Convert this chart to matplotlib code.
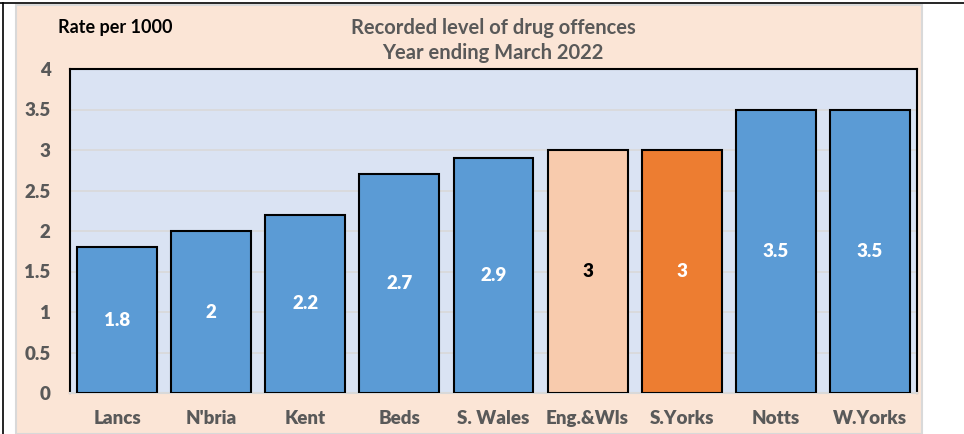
import matplotlib.pyplot as plt
from matplotlib.patches import Rectangle
from matplotlib.lines import Line2D

# Data
areas = ['Lancs', "N'bria", 'Kent', 'Beds', 'S. Wales', 'Eng.&Wls', 'S.Yorks', 'Notts', 'W.Yorks']
rates = [1.8, 2, 2.2, 2.7, 2.9, 3, 3, 3.5, 3.5]
bar_colors = ['#5B9BD5'] * 5 + ['#F8CBAD', '#ED7D31'] + ['#5B9BD5'] * 2
label_colors = ['white'] * 5 + ['black', 'white'] + ['white'] * 2
yticks = [0, 0.5, 1, 1.5, 2, 2.5, 3, 3.5, 4]

plt.rcParams['font.family'] = ['Lato', 'DejaVu Sans']

W, H = 964, 434
fig = plt.figure(figsize=(W / 100, H / 100), dpi=100, facecolor='white')

# chart area background and screenshot frame lines
fig.patches.append(Rectangle((16 / W, 0), (922 - 16) / W, (H - 5) / H,
                             transform=fig.transFigure, facecolor='#FBE5D6',
                             edgecolor='#D9D9D9', linewidth=1.5, zorder=-1))
fig.lines.append(Line2D([0, 1], [1 - 3 / H, 1 - 3 / H], transform=fig.transFigure,
                        color='black', linewidth=1.2))
fig.lines.append(Line2D([3 / W, 3 / W], [0, 1 - 3 / H], transform=fig.transFigure,
                        color='black', linewidth=1.2))

ax = fig.add_axes([70 / W, (H - 393) / H, 847 / W, 324 / H])
ax.set_zorder(2)
ax.set_facecolor('#DAE3F3')

x = range(len(areas))
bars = ax.bar(x, rates, width=0.85, color=bar_colors, edgecolor='black',
              linewidth=1.5, zorder=3)

for i, (v, c) in enumerate(zip(rates, label_colors)):
    ax.text(i, v / 2, f'{v:g}', ha='center', va='center', color=c,
            fontsize=13.5, fontweight='heavy', zorder=4)

ax.set_xlim(-0.5, len(areas) - 0.5)
ax.set_ylim(0, 4)
ax.set_yticks(yticks)
ax.set_yticklabels([f'{t:g}' for t in yticks], fontweight='heavy')
ax.set_xticks(list(x))
ax.set_xticklabels(areas, fontweight='heavy')
ax.tick_params(axis='both', length=0, labelsize=13.5, labelcolor='#595959')
ax.tick_params(axis='y', pad=14)
ax.tick_params(axis='x', pad=12)

ax.grid(axis='y', color='#D9D9D9', linewidth=1.2, zorder=0)
ax.set_axisbelow(True)
for s in ['top', 'right', 'left']:
    ax.spines[s].set_color('black')
    ax.spines[s].set_linewidth(1.5)
ax.spines['bottom'].set_color('#D9D9D9')
ax.spines['bottom'].set_linewidth(1.5)

fig.text(58 / W, 1 - 28 / H, 'Rate per 1000', ha='left', va='center',
         fontsize=13, fontweight='bold', color='black')
fig.text(493 / W, 1 - 28 / H, 'Recorded level of drug offences', ha='center',
         va='center', fontsize=14.5, fontweight='bold', color='#595959')
fig.text(493 / W, 1 - 53 / H, 'Year ending March 2022', ha='center',
         va='center', fontsize=14.5, fontweight='bold', color='#595959')

fig.savefig('out.png', dpi=100, facecolor=fig.get_facecolor())
